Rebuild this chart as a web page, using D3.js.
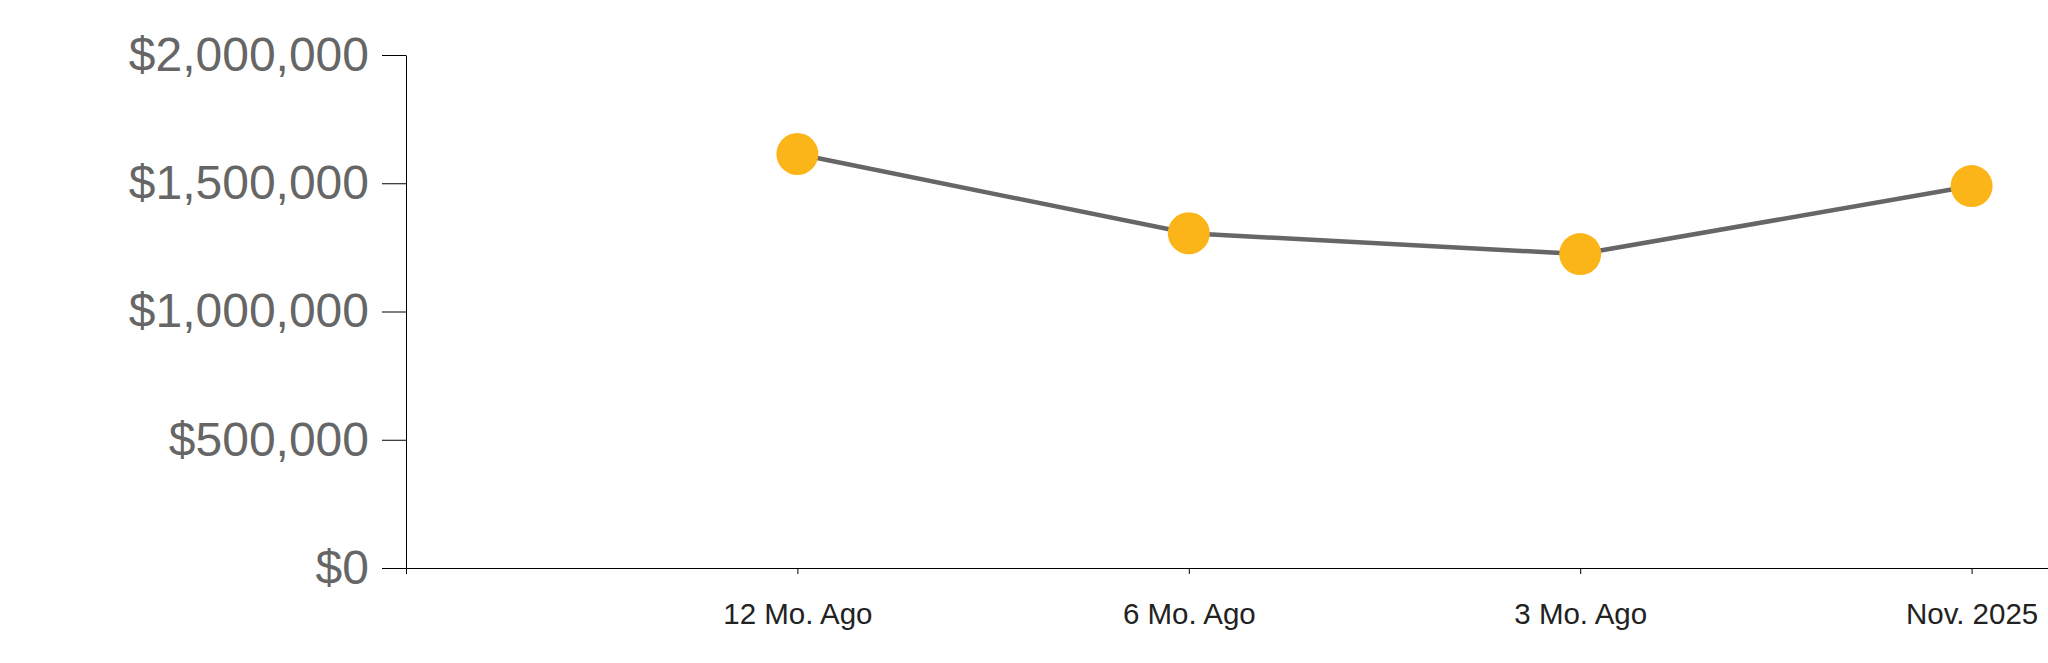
<!DOCTYPE html>
<html>
<head>
<meta charset="utf-8">
<script src="https://cdn.jsdelivr.net/npm/d3@7"></script>
<style>
  html, body { margin: 0; padding: 0; background: #fff; overflow: hidden; }
  svg { display: block; }
  text { font-family: "Liberation Sans", Arial, Helvetica, sans-serif; }
</style>
</head>
<body>
<svg id="chart" width="2048" height="663"></svg>
<script>
// Data
const categories = ["12 Mo. Ago", "6 Mo. Ago", "3 Mo. Ago", "Nov. 2025"];
const values = [1614000, 1305000, 1224000, 1489000];
const yTicks = [0, 500000, 1000000, 1500000, 2000000];

const svg = d3.select("#chart");

const x = d3.scalePoint()
  .domain(categories)
  .range([406, 2363])
  .padding(1);

const y = d3.scaleLinear()
  .domain([0, 2000000])
  .range([568, 55]);

// X axis
const xAxis = svg.append("g")
  .attr("transform", "translate(0,568)")
  .call(d3.axisBottom(x).tickSize(6).tickPadding(29));
xAxis.selectAll("path, line").attr("stroke", "#000").attr("stroke-width", 1);
xAxis.selectAll("text")
  .attr("fill", "#222")
  .style("font-size", "29.5px");

// Y axis
const yAxis = svg.append("g")
  .attr("transform", "translate(406,0)")
  .call(d3.axisLeft(y)
    .tickValues(yTicks)
    .tickSize(24)
    .tickSizeOuter(0)
    .tickPadding(13)
    .tickFormat(d => "$" + d3.format(",")(d)));
yAxis.selectAll("path, line").attr("stroke", "#000").attr("stroke-width", 1);
yAxis.selectAll("text")
  .attr("fill", "#666")
  .style("font-size", "48px");

// Line
const data = categories.map((c, i) => ({ c, v: values[i] }));
svg.append("path")
  .datum(data)
  .attr("fill", "none")
  .attr("stroke", "#666")
  .attr("stroke-width", 4.5)
  .attr("d", d3.line().x(d => x(d.c)).y(d => y(d.v)));

// Points
svg.selectAll("circle.pt")
  .data(data)
  .join("circle")
  .attr("class", "pt")
  .attr("cx", d => x(d.c))
  .attr("cy", d => y(d.v))
  .attr("r", 21)
  .attr("fill", "#FCB518");
</script>
</body>
</html>
